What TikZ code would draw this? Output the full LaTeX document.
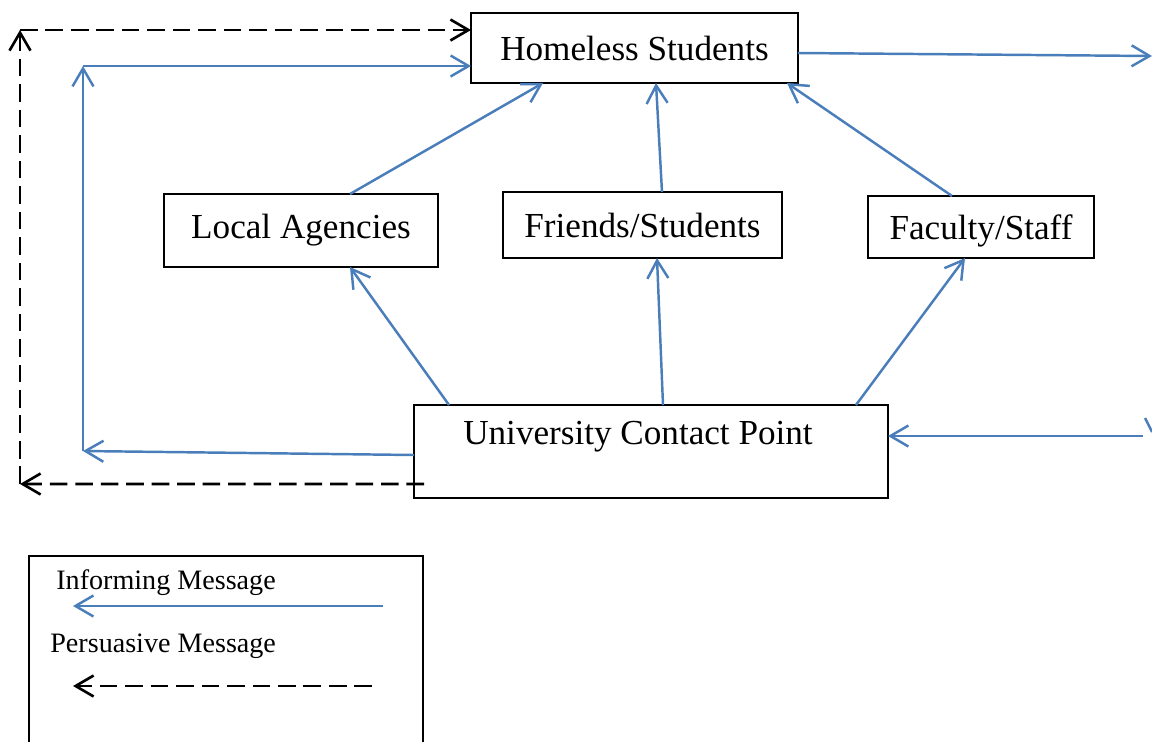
\documentclass[tikz,border=0pt]{standalone}
\usepackage{fontspec}
\setmainfont{Liberation Serif}
\usetikzlibrary{arrows.meta,positioning,calc}
\definecolor{msgblue}{HTML}{4A7EBB}

\begin{document}
\begin{tikzpicture}[x=0.02cm, y=-0.02cm,
  box/.style={rectangle, draw, line width=1.1pt, inner sep=0pt, outer sep=0pt, align=center, font=\fontsize{20}{24}\selectfont},
  inform/.style={-{Straight Barb[length=3.6mm, width=4.2mm]}, line width=1.4pt, msgblue},
  persuade/.style={-{Straight Barb[length=3.6mm, width=4.2mm]}, line width=1.5pt, black, dash pattern=on 10pt off 4.5pt},
  legtext/.style={anchor=west, inner sep=0pt, font=\fontsize{16}{19}\selectfont}
]
  \useasboundingbox (0,0) rectangle (1152,741);

  % boxes
  \node[box, minimum width=6.54cm, minimum height=1.4cm] (hs) at (634.5,48) {Homeless Students};
  \node[box, minimum width=5.48cm, minimum height=1.46cm] (la) at (301,230.5) {Local Agencies};
  \node[box, minimum width=5.58cm, minimum height=1.32cm] (fs) at (642.5,225) {Friends/Students};
  \node[box, minimum width=4.52cm, minimum height=1.24cm, text depth=0pt] (fa) at (981,227) {Faculty/Staff};
  \node[box, minimum width=9.48cm, minimum height=1.86cm] (ucp) at (651,451.5) {};
  \node[inner sep=0pt, font=\fontsize{20}{24}\selectfont] (ucptext) at (638,437) {University Contact Point};

  % corner points of the outer loops
  \coordinate (cL1) at (83,451);
  \coordinate (cL2) at (83,66);
  \coordinate (dL1) at (20,484);
  \coordinate (dL2) at (20,30);
  \coordinate (rOut) at (1152,56);
  \coordinate (rIn) at (1143,436);
  \coordinate (rTop) at (1145,418);
  \coordinate (rBot) at (1152,432);

  % informing messages
  \draw[inform] ([xshift=0.98cm]la.north) -- ([xshift=-1.83cm]hs.south);
  \draw[inform] ([xshift=0.39cm]fs.north) -- ([xshift=0.43cm]hs.south);
  \draw[inform] ([xshift=-0.58cm]fa.north) -- ([xshift=3.05cm]hs.south);
  \draw[inform] ([xshift=-4.04cm]ucp.north) -- ([xshift=0.98cm]la.south);
  \draw[inform] ([xshift=0.24cm]ucp.north) -- ([xshift=0.29cm]fs.south);
  \draw[inform] ([xshift=4.1cm]ucp.north) -- ([xshift=-0.32cm]fa.south);
  \draw[inform] ([yshift=-0.07cm]ucp.west) -- (cL1);
  \draw[inform] (cL1) -- (cL2);
  \draw[inform] (cL2) -- (hs.west |- cL2);
  \draw[inform] ([yshift=-0.1cm]hs.east) -- (rOut);
  \draw[inform] (rIn) -- (ucp.east |- rIn);
  \draw[line width=1.4pt, msgblue] (rTop) -- (rBot);

  % persuasive messages
  \draw[persuade] ([xshift=0.2cm, yshift=-0.65cm]ucp.west) -- (dL1);
  \draw[persuade] (dL1) -- (dL2);
  \draw[persuade] (dL2) -- (hs.west |- dL2);

  % legend
  \node[box, minimum width=7.88cm, minimum height=4cm] (legend) at (226,656) {};
  \node[legtext] (inftext) at (56,583) {Informing Message};
  \node[legtext] (pertext) at (50,646) {Persuasive Message};
  \coordinate (infA) at (383,606);
  \coordinate (infB) at (73,606);
  \coordinate (perA) at (372,686);
  \coordinate (perB) at (73,686);
  \draw[inform] (infA) -- (infB);
  \draw[persuade] (perA) -- (perB);
\end{tikzpicture}
\end{document}
